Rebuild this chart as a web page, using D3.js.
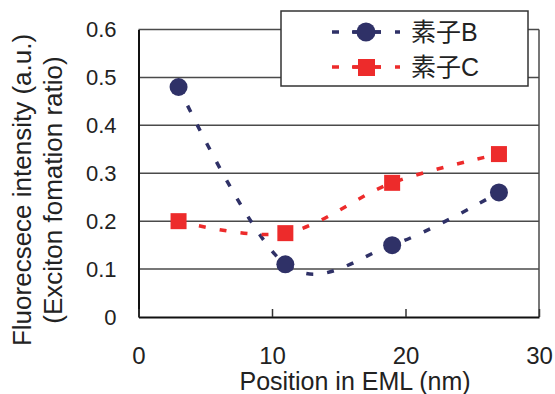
<!DOCTYPE html>
<html>
<head>
<meta charset="utf-8">
<script src="https://cdn.jsdelivr.net/npm/d3@7"></script>
<style>
  body { margin: 0; background: #fff; }
  text { font-family: "Liberation Sans", Arial, "Noto Sans CJK JP", sans-serif; fill: #222; }
</style>
</head>
<body>
<script>
// data
var positions = [3, 11, 19, 27];
var seriesB = [0.48, 0.11, 0.15, 0.26];
var seriesC = [0.20, 0.175, 0.28, 0.34];
var seriesNames = ["素子B", "素子C"];
var xTicks = [0, 10, 20, 30];
var yTicks = [0, 0.1, 0.2, 0.3, 0.4, 0.5, 0.6];

window.onload = function(){
    var svg = d3.select("body")
        .append("svg")
        .attr("width", 555)
        .attr("height", 394);

    var x = d3.scaleLinear()
        .domain([0, 30])
        .range([138.5, 539]);

    var y = d3.scaleLinear()
        .domain([0, 0.6])
        .range([317, 29.5]);

    //horizontal gridlines (top one is the frame)
    svg.selectAll(".grid")
        .data(yTicks.filter(function(d){ return d > 0; }))
        .enter()
        .append("line")
        .attr("class", "grid")
        .attr("x1", x(0))
        .attr("x2", x(30))
        .attr("y1", function(d){ return y(d); })
        .attr("y2", function(d){ return y(d); })
        .style("stroke", "#4a4a4a")
        .style("stroke-width", 1.5);

    //right border
    svg.append("line")
        .attr("x1", x(30)).attr("x2", x(30))
        .attr("y1", y(0.6)).attr("y2", y(0))
        .style("stroke", "#4a4a4a")
        .style("stroke-width", 1.5);

    //y axis, labels only
    var yAxis = svg.append("g")
        .attr("transform", "translate(" + x(0) + ",0)")
        .call(d3.axisLeft(y)
            .tickValues(yTicks)
            .tickSize(0)
            .tickPadding(22)
            .tickFormat(function(d){ return d === 0 ? "0" : d3.format(".1f")(d); }));
    yAxis.select(".domain").style("stroke", "#111").style("stroke-width", 2);
    yAxis.selectAll("text")
        .style("font-size", "22px")
        .style("font-family", null)
        .attr("fill", "#222");

    //x axis with inward ticks
    var xAxis = svg.append("g")
        .attr("transform", "translate(0," + y(0) + ")")
        .call(d3.axisBottom(x)
            .tickValues(xTicks)
            .tickSizeInner(-8)
            .tickSizeOuter(0)
            .tickPadding(30));
    xAxis.select(".domain").style("stroke", "#111").style("stroke-width", 2);
    xAxis.selectAll(".tick line").style("stroke", "#333").style("stroke-width", 1.5);
    xAxis.selectAll("text")
        .style("font-size", "24px")
        .style("font-family", null)
        .attr("fill", "#222");

    //axis titles
    svg.append("text")
        .attr("x", 355)
        .attr("y", 390)
        .attr("text-anchor", "middle")
        .style("font-size", "25px")
        .text("Position in EML (nm)");

    var yTitle = svg.append("text")
        .attr("transform", "translate(0,190) rotate(-90)")
        .attr("text-anchor", "middle")
        .style("font-size", "26px");
    yTitle.append("tspan")
        .attr("x", 0)
        .attr("y", 31)
        .text("Fluorecsece intensity (a.u.)");
    yTitle.append("tspan")
        .attr("x", 0)
        .attr("y", 62)
        .text("(Exciton fomation ratio)");

    var series = [
        { name: seriesNames[0], values: seriesB, color: "#2f3167", shape: "circle" },
        { name: seriesNames[1], values: seriesC, color: "#ed2b2b", shape: "square" }
    ];

    //smoothed dashed lines, like the spreadsheet's smooth line option
    var line = d3.line()
        .x(function(d, i){ return x(positions[i]); })
        .y(function(d){ return y(d); })
        .curve(d3.curveCardinal.tension(0));

    series.forEach(function(s){
        svg.append("path")
            .datum(s.values)
            .attr("d", line)
            .style("fill", "none")
            .style("stroke", s.color)
            .style("stroke-width", 3.5)
            .style("stroke-dasharray", "7,14");
    });

    series.forEach(function(s){
        var marks = svg.selectAll(".mark-" + s.shape)
            .data(s.values)
            .enter();
        if (s.shape === "circle") {
            marks.append("circle")
                .attr("cx", function(d, i){ return x(positions[i]); })
                .attr("cy", function(d){ return y(d); })
                .attr("r", 9)
                .style("fill", s.color);
        } else {
            marks.append("rect")
                .attr("x", function(d, i){ return x(positions[i]) - 8; })
                .attr("y", function(d){ return y(d) - 8; })
                .attr("width", 16)
                .attr("height", 16)
                .style("fill", s.color);
        }
    });

    //legend box sits over the top of the plot
    var legend = svg.append("g")
        .attr("class", "legend");
    legend.append("rect")
        .attr("x", 281)
        .attr("y", 11)
        .attr("width", 247)
        .attr("height", 75)
        .style("fill", "#fff")
        .style("stroke", "#333")
        .style("stroke-width", 1.5);

    series.forEach(function(s, i){
        var ly = 32 + i * 35;
        legend.append("line")
            .attr("x1", 332).attr("x2", 400)
            .attr("y1", ly).attr("y2", ly)
            .style("stroke", s.color)
            .style("stroke-width", 3.5)
            .style("stroke-dasharray", "7,14");
        legend.append("line")
            .attr("x1", 352).attr("x2", 381)
            .attr("y1", ly).attr("y2", ly)
            .style("stroke", s.color)
            .style("stroke-width", 3.5);
        if (s.shape === "circle") {
            legend.append("circle")
                .attr("cx", 366).attr("cy", ly).attr("r", 9.5)
                .style("fill", s.color);
        } else {
            legend.append("rect")
                .attr("x", 358).attr("y", ly - 8)
                .attr("width", 17).attr("height", 17)
                .style("fill", s.color);
        }
        legend.append("text")
            .attr("x", 411)
            .attr("y", ly)
            .attr("dy", "0.36em")
            .style("font-size", "25px")
            .text(s.name);
    });
};
</script>
</body>
</html>
